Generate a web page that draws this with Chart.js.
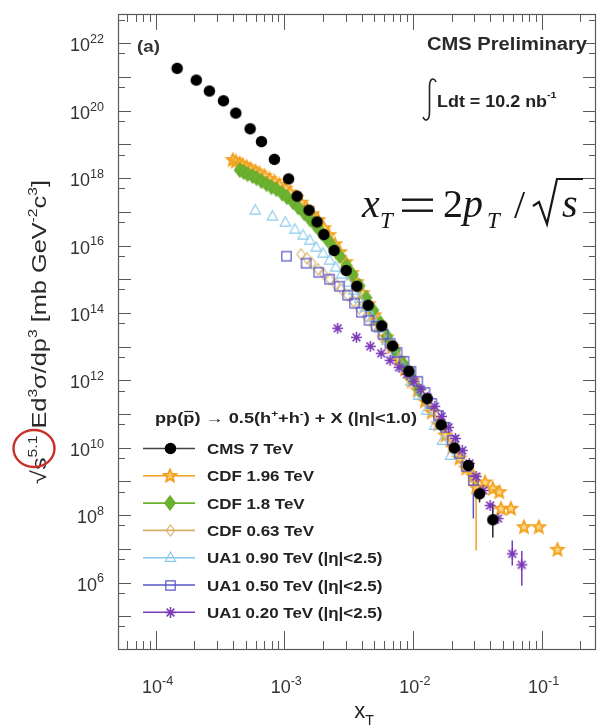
<!DOCTYPE html>
<html>
<head>
<meta charset="utf-8">
<script src="https://cdn.jsdelivr.net/npm/chart.js@4.4.1/dist/chart.umd.min.js"></script>
<style>
  html, body { margin: 0; padding: 0; background: #fff; }
  canvas { display: block; }
</style>
</head>
<body>
<canvas id="c" width="602" height="726"></canvas>
<script>
// ---- data: x_T and scaled invariant cross sections ----
const cmsX = [1.47e-4, 2.07e-4, 2.62e-4, 3.37e-4, 4.20e-4, 5.43e-4, 6.65e-4, 8.38e-4, 1.08e-3, 1.26e-3, 1.56e-3, 1.80e-3, 2.03e-3, 2.44e-3, 3.03e-3, 3.66e-3, 4.49e-3, 5.73e-3, 6.95e-3, 9.31e-3, 1.29e-2, 1.66e-2, 2.10e-2, 2.70e-2, 3.30e-2, 4.18e-2];
const cmsY = [1.81e21, 8.1e20, 3.83e20, 1.97e20, 8.5e19, 2.91e19, 1.21e19, 3.61e18, 9.46e17, 2.92e17, 1.12e17, 5.03e16, 2.12e16, 7.11e15, 1.81e15, 6.2e14, 1.69e14, 4.13e13, 1.05e13, 1.87e12, 2.86e11, 4.79e10, 9.8e9, 2.99e9, 4.32e8, 7.3e7];

const cdf196X = [3.98e-4, 4.20e-4, 4.51e-4, 4.75e-4, 5.10e-4, 5.48e-4, 5.98e-4, 6.42e-4, 7.02e-4, 7.67e-4, 8.38e-4, 9.16e-4, 1.02e-3, 1.11e-3, 1.24e-3, 1.35e-3, 1.50e-3, 1.64e-3, 1.83e-3, 2.03e-3, 2.22e-3, 2.47e-3, 2.70e-3, 3.00e-3, 3.34e-3, 3.64e-3, 4.05e-3, 4.51e-3, 5.01e-3, 5.57e-3, 6.20e-3, 6.89e-3, 7.80e-3, 8.68e-3, 9.82e-3, 1.09e-2, 1.24e-2, 1.40e-2, 1.58e-2, 1.79e-2, 2.03e-2, 2.30e-2, 2.60e-2, 2.95e-2, 3.10e-2, 3.64e-2, 4.18e-2, 4.69e-2, 4.84e-2, 5.78e-2, 7.31e-2, 9.53e-2, 1.33e-1];
const cdf196Y = [3.42e18, 3.08e18, 2.69e18, 2.43e18, 2.12e18, 1.85e18, 1.56e18, 1.36e18, 1.15e18, 9.33e17, 7.85e17, 6.40e17, 4.88e17, 3.71e17, 2.63e17, 1.87e17, 1.20e17, 8.51e16, 5.65e16, 3.27e16, 2.03e16, 1.09e16, 6.34e15, 3.20e15, 1.51e15, 8.15e14, 3.84e14, 1.81e14, 8.51e13, 4.02e13, 1.89e13, 9.55e12, 4.21e12, 2.12e12, 9.33e11, 5.05e11, 2.38e11, 1.12e11, 4.93e10, 2.32e10, 1.02e10, 4.82e9, 2.43e9, 1.41e9, 6.64e8, 9.35e8, 6.07e8, 4.81e8, 1.55e8, 1.55e8, 4.40e7, 4.40e7, 9.38e6];

const cdf18X = [4.51e-4, 4.84e-4, 5.19e-4, 5.67e-4, 6.09e-4, 6.65e-4, 7.27e-4, 7.94e-4, 8.68e-4, 9.65e-4, 1.05e-3, 1.17e-3, 1.28e-3, 1.43e-3, 1.58e-3, 1.76e-3, 1.96e-3, 2.18e-3, 2.43e-3, 2.70e-3, 3.05e-3, 3.40e-3, 3.84e-3, 4.35e-3, 4.92e-3, 5.57e-3, 6.31e-3, 7.27e-3, 8.38e-3, 9.65e-3, 1.11e-2];
const cdf18Y = [1.73e18, 1.51e18, 1.31e18, 1.15e18, 9.98e17, 8.13e17, 6.62e17, 5.40e17, 4.71e17, 3.46e17, 2.72e17, 1.94e17, 1.37e17, 9.12e16, 6.05e16, 3.88e16, 2.32e16, 1.44e16, 8.32e15, 4.82e15, 2.52e15, 1.36e15, 6.41e14, 2.82e14, 1.20e14, 5.11e13, 2.03e13, 8.05e12, 3.20e12, 1.27e12, 5.22e11];

const cdf063X = [1.35e-3, 1.50e-3, 1.64e-3, 1.83e-3, 2.03e-3, 2.26e-3, 2.51e-3, 2.79e-3, 3.11e-3, 3.45e-3, 3.84e-3, 4.35e-3, 4.92e-3, 5.67e-3, 6.54e-3, 7.67e-3, 8.99e-3, 1.07e-2, 1.28e-2, 1.56e-2, 1.89e-2, 2.34e-2, 2.90e-2];
const cdf063Y = [5.52e15, 4.20e15, 2.99e15, 1.98e15, 1.41e15, 1.00e15, 7.10e14, 5.05e14, 3.35e14, 2.22e14, 1.37e14, 7.96e13, 4.31e13, 2.03e13, 9.55e12, 3.93e12, 1.61e12, 5.78e11, 2.07e11, 6.05e10, 1.77e10, 4.82e9, 1.32e9];

const ua090X = [5.95e-4, 8.09e-4, 1.02e-3, 1.21e-3, 1.40e-3, 1.58e-3, 1.77e-3, 2.00e-3, 2.25e-3, 2.51e-3, 2.79e-3, 3.11e-3, 3.45e-3, 3.84e-3, 4.27e-3, 4.84e-3, 5.48e-3, 6.31e-3, 7.27e-3, 8.38e-3, 9.65e-3, 1.11e-2, 1.28e-2, 1.48e-2, 1.70e-2, 1.96e-2];
const ua090Y = [1.12e17, 7.43e16, 4.93e16, 3.05e16, 2.03e16, 1.44e16, 8.91e15, 5.92e15, 3.66e15, 2.27e15, 1.41e15, 8.15e14, 4.71e14, 2.72e14, 1.47e14, 7.43e13, 3.50e13, 1.54e13, 6.34e12, 2.43e12, 9.33e11, 3.58e11, 1.29e11, 4.61e10, 1.65e10, 5.92e9];

const ua050X = [1.04e-3, 1.48e-3, 1.85e-3, 2.25e-3, 2.68e-3, 3.11e-3, 3.52e-3, 3.98e-3, 4.56e-3, 5.19e-3, 5.88e-3, 6.65e-3, 7.53e-3, 8.53e-3, 9.65e-3, 1.09e-2, 1.24e-2, 1.40e-2, 1.58e-2, 1.79e-2, 2.03e-2, 2.30e-2, 2.60e-2, 2.95e-2];
const ua050Y = [4.82e15, 2.99e15, 1.61e15, 1.00e15, 6.19e14, 3.35e14, 1.94e14, 1.05e14, 6.05e13, 4.02e13, 2.32e13, 1.26e13, 6.79e12, 3.66e12, 1.85e12, 9.33e11, 4.40e11, 2.07e11, 9.12e10, 4.02e10, 1.65e10, 6.79e9, 2.79e9, 1.07e9];

const ua020X = [2.60e-3, 3.64e-3, 4.67e-3, 5.67e-3, 6.65e-3, 7.80e-3, 8.99e-3, 1.02e-2, 1.15e-2, 1.30e-2, 1.48e-2, 1.67e-2, 1.89e-2, 2.14e-2, 2.42e-2, 2.75e-2, 3.10e-2, 3.52e-2, 3.98e-2, 4.59e-2, 5.92e-2, 7.02e-2];
const ua020Y = [3.50e13, 1.89e13, 1.02e13, 6.34e12, 3.93e12, 2.43e12, 1.51e12, 9.33e11, 5.41e11, 3.13e11, 1.69e11, 8.53e10, 4.02e10, 1.89e10, 8.34e9, 3.43e9, 1.41e9, 5.41e8, 1.94e8, 7.96e7, 7.13e6, 3.36e6];

// vertical error bars: dataset index, x, low, high
const errSet = [0, 0, 1, 5, 6, 6];
const errX   = [3.30e-2, 4.18e-2, 3.10e-2, 2.95e-2, 5.92e-2, 7.02e-2];
const errLo  = [2.4e8, 2.17e7, 8.9e6, 7.96e7, 3.2e6, 8.1e5];
const errHi  = [8.1e8, 2.2e8, 1.0e9, 2.12e9, 1.77e7, 8.7e6];

const seriesLabels = ['CMS 7 TeV', 'CDF 1.96 TeV', 'CDF 1.8 TeV', 'CDF 0.63 TeV', 'UA1 0.90 TeV (|\u03B7|<2.5)', 'UA1 0.50 TeV (|\u03B7|<2.5)', 'UA1 0.20 TeV (|\u03B7|<2.5)'];
const xTickExp = [-4, -3, -2, -1];
const yTickExp = [6, 8, 10, 12, 14, 16, 18, 20, 22];

// ---- drawing helpers ----
const SANS = '"Liberation Sans", Arial, Helvetica, sans-serif';
const SERIF = '"Liberation Serif", "Times New Roman", serif';

function marker(kind, size, stroke, fill, lw) {
  const s = Math.ceil(size + lw * 2 + 3);
  const c = document.createElement('canvas');
  c.width = s; c.height = s;
  const g = c.getContext('2d');
  const m = s / 2, r = size / 2;
  g.lineWidth = lw; g.strokeStyle = stroke; g.fillStyle = fill || 'rgba(0,0,0,0)';
  g.lineJoin = 'miter';
  g.beginPath();
  if (kind === 'circle') {
    g.arc(m, m, r, 0, Math.PI * 2);
  } else if (kind === 'star') {
    for (let i = 0; i < 10; i++) {
      const a = -Math.PI / 2 + i * Math.PI / 5;
      const rr = i % 2 ? r * 0.45 : r;
      g.lineTo(m + rr * Math.cos(a), m + rr * Math.sin(a));
    }
    g.closePath();
  } else if (kind === 'diamond') {
    g.moveTo(m, m - r); g.lineTo(m + r * 0.75, m); g.lineTo(m, m + r); g.lineTo(m - r * 0.75, m); g.closePath();
  } else if (kind === 'triangle') {
    g.moveTo(m, m - r); g.lineTo(m + r * 0.95, m + r * 0.7); g.lineTo(m - r * 0.95, m + r * 0.7); g.closePath();
  } else if (kind === 'square') {
    g.rect(m - r * 0.85, m - r * 0.85, r * 1.7, r * 1.7);
  } else if (kind === 'asterisk') {
    for (let i = 0; i < 4; i++) {
      const a = i * Math.PI / 4;
      g.moveTo(m - r * Math.cos(a), m - r * Math.sin(a));
      g.lineTo(m + r * Math.cos(a), m + r * Math.sin(a));
    }
  }
  if (fill && kind !== 'asterisk') g.fill();
  if (lw > 0) g.stroke();
  return c;
}

// text made of normal / superscript / subscript runs; x,y = anchor on baseline
function drawRich(ctx, parts, x, y, o) {
  const size = o.size, w = o.weight || 'normal', ss = o.supScale || 0.65;
  ctx.save();
  ctx.textBaseline = 'alphabetic'; ctx.textAlign = 'left';
  const widths = []; let total = 0;
  for (const [t, k] of parts) {
    ctx.font = `${w} ${k === 'n' ? size : size * ss}px ${SANS}`;
    const ww = ctx.measureText(t).width; widths.push(ww); total += ww;
  }
  let sx = o.sx || 1;
  if (o.fitWidth) sx = o.fitWidth / total;
  let start = 0;
  if (o.align === 'right') start = -total; else if (o.align === 'center') start = -total / 2;
  ctx.translate(x, y);
  if (o.rotate) ctx.rotate(o.rotate);
  ctx.scale(sx, 1);
  ctx.fillStyle = o.color || '#222';
  let cx = start;
  parts.forEach(([t, k], i) => {
    ctx.font = `${w} ${k === 'n' ? size : size * ss}px ${SANS}`;
    const dy = k === 'sup' ? -size * (o.supRise || 0.42) : k === 'sub' ? size * (o.subDrop || 0.25) : 0;
    ctx.fillText(t, cx, dy);
    cx += widths[i];
  });
  ctx.restore();
  return { width: total * sx, sx };
}

const colCMS = '#000000';
const col196 = 'rgb(243,160,28)';
const col18 = 'rgb(108,178,48)';
const col063 = 'rgb(214,176,104)';
const col090 = 'rgb(135,200,236)';
const col050 = 'rgb(88,86,198)';
const col020 = 'rgb(122,58,182)';

const mkCMS = marker('circle', 11.5, colCMS, colCMS, 0);
const mk196 = marker('star', 13, col196, 'rgba(250,196,90,0.75)', 1.8);
const mk18 = marker('diamond', 15, 'rgb(96,166,42)', col18, 0.8);
const mk063 = marker('diamond', 11, col063, null, 1.1);
const mk090 = marker('triangle', 11, col090, null, 1.1);
const mk050 = marker('square', 11, col050, null, 1.2);
const mk020 = marker('asterisk', 11, col020, null, 1.5);

const pts = (xs, ys) => xs.map((x, i) => ({ x, y: ys[i] }));
const lineCols = ['#444', col196, col18, col063, col090, col050, col020];

const datasets = [
  { label: seriesLabels[0], data: pts(cmsX, cmsY), pointStyle: mkCMS, borderColor: colCMS, backgroundColor: colCMS, order: 0 },
  { label: seriesLabels[1], data: pts(cdf196X, cdf196Y), pointStyle: mk196, borderColor: col196, backgroundColor: col196, order: 6 },
  { label: seriesLabels[2], data: pts(cdf18X, cdf18Y), pointStyle: mk18, borderColor: col18, backgroundColor: col18, order: 5 },
  { label: seriesLabels[3], data: pts(cdf063X, cdf063Y), pointStyle: mk063, borderColor: col063, backgroundColor: col063, order: 4 },
  { label: seriesLabels[4], data: pts(ua090X, ua090Y), pointStyle: mk090, borderColor: col090, backgroundColor: col090, order: 3 },
  { label: seriesLabels[5], data: pts(ua050X, ua050Y), pointStyle: mk050, borderColor: col050, backgroundColor: col050, order: 2 },
  { label: seriesLabels[6], data: pts(ua020X, ua020Y), pointStyle: mk020, borderColor: col020, backgroundColor: col020, order: 1 },
].map(d => Object.assign(d, { showLine: false, pointRadius: 5, pointHoverRadius: 5 }));

const backgroundPlugin = {
  id: 'bg',
  beforeDraw(chart) {
    const ctx = chart.ctx;
    ctx.save(); ctx.fillStyle = '#fff'; ctx.fillRect(0, 0, chart.width, chart.height); ctx.restore();
  }
};

const errorBarPlugin = {
  id: 'errbars',
  beforeDatasetsDraw(chart) {
    const ctx = chart.ctx, xs = chart.scales.x, ys = chart.scales.y;
    ctx.save();
    ctx.lineWidth = 1.5;
    errX.forEach((x, i) => {
      const px = xs.getPixelForValue(x);
      ctx.strokeStyle = errSet[i] === 0 ? '#222' : lineCols[errSet[i]];
      ctx.beginPath();
      ctx.moveTo(px, ys.getPixelForValue(errHi[i]));
      ctx.lineTo(px, ys.getPixelForValue(errLo[i]));
      ctx.stroke();
    });
    ctx.restore();
  }
};

const framePlugin = {
  id: 'frame',
  afterDatasetsDraw(chart) {
    const ctx = chart.ctx, xs = chart.scales.x, ys = chart.scales.y, a = chart.chartArea;
    ctx.save();
    // frame
    ctx.strokeStyle = '#5a5a5a'; ctx.lineWidth = 1.2;
    ctx.strokeRect(a.left + 0.5, a.top + 0.5, a.right - a.left - 1, a.bottom - a.top - 1);
    // x ticks (decades + 2..9 subdivisions), inward on bottom and top
    ctx.lineWidth = 1;
    for (let k = -5; k <= 0; k++) {
      for (let m = 1; m <= 9; m++) {
        const v = m * Math.pow(10, k);
        if (v <= xs.min || v >= xs.max) continue;
        const px = Math.round(xs.getPixelForValue(v)) + 0.5;
        const lb = m === 1 ? 19 : 9, lt = m === 1 ? 16 : 8;
        ctx.beginPath();
        ctx.moveTo(px, a.bottom); ctx.lineTo(px, a.bottom - lb);
        ctx.moveTo(px, a.top); ctx.lineTo(px, a.top + lt);
        ctx.stroke();
      }
    }
    // y ticks (decades and 5x), inward on left and right
    for (let k = 3; k <= 23; k++) {
      for (const m of [1, 5]) {
        const v = m * Math.pow(10, k);
        if (v <= ys.min || v >= ys.max) continue;
        const py = Math.round(ys.getPixelForValue(v)) + 0.5;
        const len = m === 1 ? 13 : 7;
        ctx.beginPath();
        ctx.moveTo(a.left, py); ctx.lineTo(a.left + len, py);
        ctx.moveTo(a.right, py); ctx.lineTo(a.right - len, py);
        ctx.stroke();
      }
    }
    // tick labels
    const tickCol = '#333';
    yTickExp.forEach(e => {
      const py = ys.getPixelForValue(Math.pow(10, e));
      drawRich(ctx, [['10', 'n'], [String(e), 'sup']], 104, py + 8, { size: 18, supScale: 0.7, supRise: 0.45, align: 'right', color: tickCol });
    });
    xTickExp.forEach(e => {
      const px = xs.getPixelForValue(Math.pow(10, e));
      drawRich(ctx, [['10', 'n'], [String(e), 'sup']], px + 2, 693, { size: 18, supScale: 0.7, supRise: 0.45, align: 'center', color: tickCol });
    });
    // axis titles
    drawRich(ctx, [['x', 'n'], ['T', 'sub']], 364, 718, { size: 22, supScale: 0.65, subDrop: 0.3, align: 'center', color: '#222' });
    drawRich(ctx, [['\u221As', 'n'], ['5.1', 'sup'], [' Ed', 'n'], ['3', 'sup'], ['\u03C3/dp', 'n'], ['3', 'sup'], [' [mb GeV', 'n'], ['-2', 'sup'], ['c', 'n'], ['3', 'sup'], [']', 'n']],
      46, 484, { size: 21, supScale: 0.62, supRise: 0.45, rotate: -Math.PI / 2, fitWidth: 304, color: '#2a2a2a' });
    // highlight around the exponent
    ctx.strokeStyle = 'rgb(200,48,42)'; ctx.lineWidth = 2.4;
    ctx.beginPath(); ctx.ellipse(34, 448.5, 20.5, 18.5, 0, 0, Math.PI * 2); ctx.stroke();

    // annotations
    drawRich(ctx, [['(a)', 'n']], 137, 52, { size: 17, weight: 'bold', sx: 1.1, color: '#333' });
    drawRich(ctx, [['CMS Preliminary', 'n']], 587, 50, { size: 18, weight: 'bold', fitWidth: 160, align: 'right', color: '#2a2a2a' });
    // integral sign
    ctx.strokeStyle = '#222'; ctx.lineWidth = 1.6;
    ctx.beginPath();
    ctx.moveTo(436, 82); ctx.bezierCurveTo(434, 77, 429.5, 78, 429.5, 87);
    ctx.lineTo(429.5, 112); ctx.bezierCurveTo(429.5, 121, 425, 122, 423, 117);
    ctx.stroke();
    drawRich(ctx, [['Ldt = 10.2 nb', 'n'], ['-1', 'sup']], 437, 107, { size: 16, weight: 'bold', sx: 1.12, supScale: 0.6, supRise: 0.55, color: '#222' });

    // x_T = 2 p_T / sqrt(s)
    ctx.fillStyle = '#161616'; ctx.textBaseline = 'alphabetic'; ctx.textAlign = 'left';
    ctx.font = `italic 40px ${SERIF}`; ctx.fillText('x', 362, 217);
    ctx.font = `italic 23px ${SERIF}`; ctx.fillText('T', 380, 228);
    ctx.fillRect(402, 198.5, 31, 2.4);
    ctx.fillRect(402, 209.5, 31, 2.4);
    ctx.font = `40px ${SERIF}`; ctx.fillText('2', 443, 217);
    ctx.font = `italic 40px ${SERIF}`; ctx.fillText('p', 463, 217);
    ctx.font = `italic 23px ${SERIF}`; ctx.fillText('T', 487, 228);
    ctx.font = `40px ${SERIF}`; ctx.fillText('/', 514, 218);
    ctx.strokeStyle = '#161616'; ctx.lineWidth = 2.2;
    ctx.beginPath();
    ctx.moveTo(533, 206); ctx.lineTo(539, 202); ctx.lineTo(547, 224); ctx.lineTo(557, 179); ctx.lineTo(583, 179);
    ctx.stroke();
    ctx.font = `italic 40px ${SERIF}`; ctx.fillText('s', 562, 217);

    // legend
    const hdr = drawRich(ctx, [['pp(p) \u2192 0.5(h', 'n'], ['+', 'sup'], ['+h', 'n'], ['-', 'sup'], [') + X (|\u03B7|<1.0)', 'n']],
      155, 423, { size: 15, weight: 'bold', fitWidth: 262, supScale: 0.65, color: '#222' });
    ctx.font = `bold 15px ${SANS}`;
    const wpp = ctx.measureText('pp(').width * hdr.sx, wp = ctx.measureText('p').width * hdr.sx;
    ctx.strokeStyle = '#222'; ctx.lineWidth = 1.2;
    ctx.beginPath(); ctx.moveTo(155 + wpp + 1, 411.5); ctx.lineTo(155 + wpp + wp - 1, 411.5); ctx.stroke();

    chart.data.datasets.forEach((ds, i) => {
      const yc = 448.5 + i * 27.3;
      ctx.strokeStyle = lineCols[i]; ctx.lineWidth = 1.6;
      ctx.beginPath(); ctx.moveTo(143, yc); ctx.lineTo(195, yc); ctx.stroke();
      const img = ds.pointStyle;
      ctx.drawImage(img, Math.round(170 - img.width / 2), Math.round(yc - img.height / 2));
      drawRich(ctx, [[ds.label, 'n']], 207, yc + 5.5, { size: 15, weight: 'bold', sx: 1.13, color: '#222' });
    });
    ctx.restore();
  }
};

new Chart(document.getElementById('c'), {
  type: 'scatter',
  data: { datasets },
  options: {
    responsive: false,
    animation: false,
    devicePixelRatio: 1,
    events: [],
    layout: { padding: { left: 118, top: 14, right: 1, bottom: 76 } },
    scales: {
      x: { type: 'logarithmic', min: 5.1e-5, max: 0.265, display: false },
      y: { type: 'logarithmic', min: 1e4, max: 7.4e22, display: false }
    },
    plugins: { legend: { display: false }, tooltip: { enabled: false } }
  },
  plugins: [backgroundPlugin, errorBarPlugin, framePlugin]
});
</script>
</body>
</html>
